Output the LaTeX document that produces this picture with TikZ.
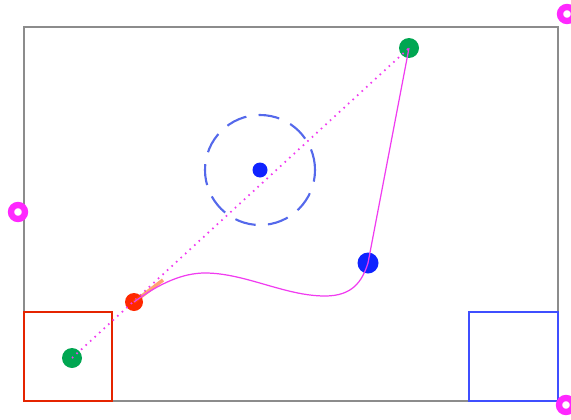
\documentclass[tikz,border=0pt]{standalone}
\usepackage{tikz}
\usetikzlibrary{arrows.meta, positioning}
\usepackage{xcolor}
\definecolor{dotgreen}{RGB}{0,166,81}
\definecolor{dotred}{RGB}{255,40,0}
\definecolor{dotblue}{RGB}{15,35,255}
\definecolor{ringblue}{RGB}{85,105,235}
\definecolor{pathpink}{RGB}{240,60,240}
\definecolor{ringpink}{RGB}{255,40,255}
\definecolor{framegray}{RGB}{140,140,140}

\begin{document}
\begin{tikzpicture}[
    x=0.02cm, y=-0.02cm,
    dot/.style={circle, inner sep=0pt, minimum size=#1},
    handle ring/.style={draw=ringpink, line width=3.6pt, circle, inner sep=0pt, minimum size=14*0.02cm}
]
    \useasboundingbox (0,0) rectangle (571,419);

    % Frame and boxes
    \draw[framegray, line width=0.9pt] (24,27) rectangle (558,401);
    \draw[dotred!90!black, line width=0.8pt] (24,312) rectangle (112,401);
    \draw[dotblue!80, line width=0.8pt] (469,312) rectangle (558,401);

    % Nodes
    \node[dot=20*0.02cm, fill=dotgreen] (g1) at (409,48) {};
    \node[dot=20*0.02cm, fill=dotgreen] (g2) at (72,358) {};
    \node[dot=18*0.02cm, fill=dotred] (r) at (134,302) {};
    \node[dot=21*0.02cm, fill=dotblue] (b) at (368,263) {};
    \node[dot=15*0.02cm, fill=dotblue] (c) at (260,170) {};
    \node[circle, draw=ringblue, line width=1.2pt, dash pattern=on 12pt off 7pt,
          minimum size=110*0.02cm, inner sep=0pt] (ring) at (c) {};

    % Handles
    \node[handle ring] (h1) at (18,212) {};
    \node[handle ring] (h2) at (567,14) {};
    \node[handle ring] (h3) at (566,405) {};

    % Edges
    \draw[pathpink, line width=1pt, dash pattern=on 0.9pt off 2.6pt] (g2.center) -- (g1.center);
    \draw[orange!70!red, opacity=0.55, line width=2pt] (r.center) -- (163,280);
    \draw[pathpink, line width=0.7pt] (r.center)
        .. controls (160,283) and (183,273) .. (205,273)
        .. controls (245,273) and (285,296) .. (325,296)
        .. controls (352,296) and (362,282) .. (b.center);
    \draw[pathpink, line width=0.7pt] (b.center) -- (g1.center);
\end{tikzpicture}
\end{document}
